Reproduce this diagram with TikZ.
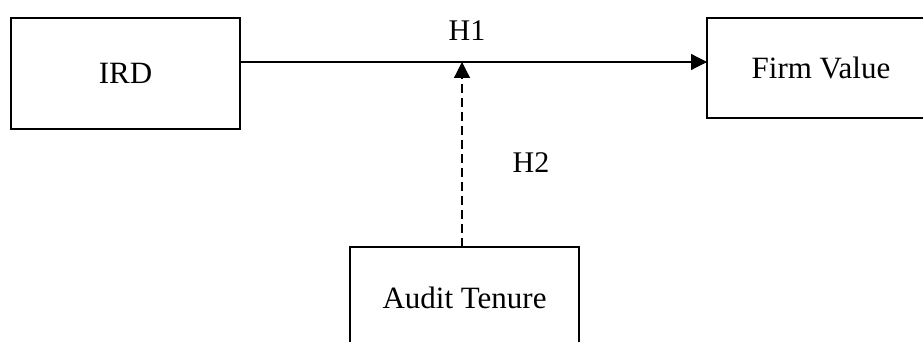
\documentclass[tikz,border=0pt]{standalone}
\usepackage{fontspec}
\setmainfont{Liberation Serif}
\usetikzlibrary{arrows.meta}
\begin{document}
\begin{tikzpicture}[x=1pt,y=-1pt,
  box/.style={draw,line width=2.7pt,inner sep=0pt,outer sep=0pt,font=\fontsize{31}{37}\selectfont},
  lbl/.style={inner sep=0pt,font=\fontsize{30}{36}\selectfont},
  conn/.style={line width=1.2pt,-{Triangle[length=16pt,width=16pt]}},
  dashconn/.style={conn,dash pattern=on 9pt off 5pt}]
\clip (0,0) rectangle (923,342);
\fill[white] (0,0) rectangle (923,342);
\node[box,minimum width=229pt,minimum height=111pt] (IRD) at (125.5,73.5) {IRD};
\node[box,minimum width=228pt,minimum height=100pt] (FV) at (821,68) {Firm Value};
\node[box,minimum width=229pt,minimum height=102pt] (AT) at (464.5,298) {Audit Tenure};
\coordinate (j) at (462,62);
\draw[conn] (IRD.east |- j) -- (FV.west |- j);
\draw[dashconn] (j |- AT.north) -- (j);
\node[lbl] (h1) at (467,31) {H1};
\node[lbl] (h2) at (531,163) {H2};
\end{tikzpicture}
\end{document}
